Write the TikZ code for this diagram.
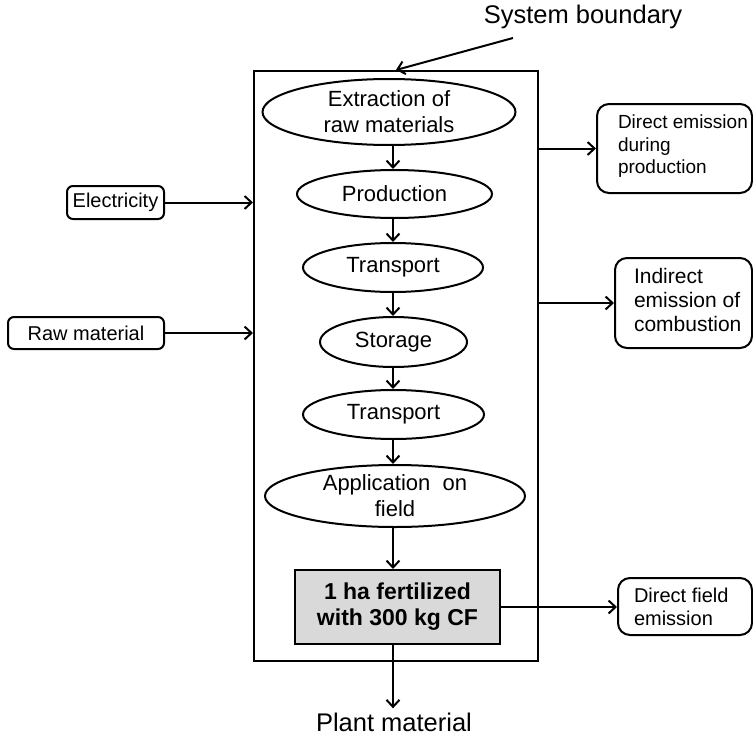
\documentclass[tikz,border=0pt]{standalone}
\usepackage{fontspec}
\setmainfont{Liberation Sans}
\usetikzlibrary{shapes.geometric,arrows.meta}
\begin{document}
\begin{tikzpicture}[x=1pt,y=-1pt,
  line width=2pt,
  >={Straight Barb[length=7pt,width=13pt,line width=2pt]},
  stage/.style={draw,ellipse,inner sep=0pt,align=center,font=\fontsize{22}{26}\selectfont},
  inbox/.style={draw,rounded corners=6pt,inner sep=0pt,font=\fontsize{20}{24}\selectfont},
  outbox/.style={draw,rounded corners=12pt,inner sep=0pt},
  outtext/.style={inner sep=0pt,align=left},
  big/.style={font=\fontsize{25.5}{30}\selectfont},
  flow/.style={->}]
\useasboundingbox (0,0) rectangle (753,736);

% system boundary frame
\node[draw,minimum width=284pt,minimum height=590pt,inner sep=0pt] (sb) at (396,366) {};
\node[big] (sbl) at (583,17) {System boundary};
\coordinate (sbt) at (513,38);
\draw[flow] (sbt) -- (sb.north);

% process chain
\node[stage,minimum width=253pt,minimum height=66pt] (ext) at (389,112) {Extraction of\\raw materials};
\node[stage,minimum width=195pt,minimum height=48pt] (prod) at (394.5,194) {Production};
\node[stage,minimum width=180pt,minimum height=49pt] (tr1) at (393,267.5) {Transport};
\node[stage,minimum width=147pt,minimum height=50pt] (sto) at (393.5,342) {Storage};
\node[stage,minimum width=181pt,minimum height=49pt] (tr2) at (393.5,414.5) {Transport};
\node[stage,minimum width=260pt,minimum height=62pt] (app) at (395,496) {Application \ on\\field};
\node[draw,fill=black!15,minimum width=205pt,minimum height=74pt,inner sep=0pt,align=center,
      font=\fontsize{23}{26}\bfseries\selectfont] (ha) at (397.5,607) {1 ha fertilized\\with 300 kg CF};
\node[big] (pm) at (394,722) {Plant material};

\draw[flow] (ext.south -| 393,0) -- (prod.north -| 393,0);
\draw[flow] (prod.south -| 393,0) -- (tr1.north -| 393,0);
\draw[flow] (tr1.south -| 393,0) -- (sto.north -| 393,0);
\draw[flow] (sto.south -| 393,0) -- (tr2.north -| 393,0);
\draw[flow] (tr2.south -| 393,0) -- (app.north -| 393,0);
\draw[flow] (app.south -| 393,0) -- (ha.north -| 393,0);
\draw[flow] (ha.south -| 393,0) -- (pm.north -| 393,0);

% inputs
\node[inbox,minimum width=97pt,minimum height=33pt] (el) at (115.5,202.5) {Electricity};
\node[inbox,minimum width=156pt,minimum height=32pt] (rm) at (86,333) {Raw material};
\draw[flow] (el.east) -- (el -| sb.west);
\draw[flow] (rm.east) -- (rm -| sb.west);

% outputs
\node[outbox,minimum width=155pt,minimum height=89pt] (de) at (674.5,148.5) {};
\node[outtext,anchor=north west,font=\fontsize{19}{22.5}\selectfont] (det) at (617,114) {Direct emission\\during\\production};
\node[outbox,minimum width=137pt,minimum height=90pt] (ie) at (683.5,303) {};
\node[outtext,anchor=north west,font=\fontsize{21}{24}\selectfont] (iet) at (633,267) {Indirect\\emission of\\combustion};
\node[outbox,minimum width=134pt,minimum height=57pt] (df) at (685,606.5) {};
\node[outtext,anchor=north west,font=\fontsize{20}{23}\selectfont] (dft) at (633,587) {Direct field\\emission};

\draw[flow] (de -| sb.east) -- (de.west);
\draw[flow] (ie -| sb.east) -- (ie.west);
\draw[flow] (ha.east) -- (ha -| df.west);
\end{tikzpicture}
\end{document}
